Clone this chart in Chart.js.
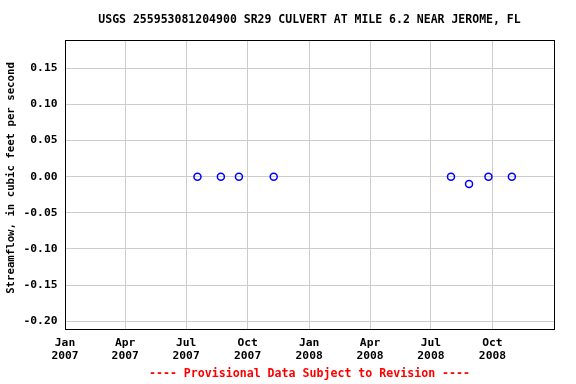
<!DOCTYPE html>
<html>
<head>
<meta charset="utf-8">
<script src="https://cdn.jsdelivr.net/npm/chart.js@4"></script>
<style>
html,body{margin:0;padding:0;background:#fff;}
#wrap{width:576px;height:384px;}
</style>
</head>
<body>
<div id="wrap"><canvas id="c" width="576" height="384"></canvas></div>
<script>
const titleText = "USGS 255953081204900 SR29 CULVERT AT MILE 6.2 NEAR JEROME, FL";
const footerText = "---- Provisional Data Subject to Revision ----";
const yAxisTitle = "  Streamflow, in cubic feet per second";
const sampleDates = ["2007-07-18","2007-08-22","2007-09-18","2007-11-09","2008-07-31","2008-08-27","2008-09-25","2008-10-30"];
const sampleValues = [0.00, 0.00, 0.00, 0.00, 0.00, -0.01, 0.00, 0.00];
const tickMonths = ["2007-01-01","2007-04-01","2007-07-01","2007-10-01","2008-01-01","2008-04-01","2008-07-01","2008-10-01"];
const tickLabels = [["Jan","2007"],["Apr","2007"],["Jul","2007"],["Oct","2007"],["Jan","2008"],["Apr","2008"],["Jul","2008"],["Oct","2008"]];
const yTicks = [0.15,0.10,0.05,0.00,-0.05,-0.10,-0.15,-0.20];

const toMs = s => Date.parse(s + "T00:00:00Z");
const tickMs = tickMonths.map(toMs);
const FONT = "'DejaVu Sans Mono', monospace";

const borderPlugin = {
  id: 'plotBorder',
  afterLayout(chart) {
    const a = chart.chartArea;
    chart.boxes.forEach(b => {
      if (b && b.options && typeof b.options.text === 'string' && (b.options.text === titleText || b.options.text === footerText)) {
        b.left = a.left; b.right = a.right; b.width = a.right - a.left;
      }
    });
  },
  afterDraw(chart) {
    const {ctx, chartArea: a} = chart;
    ctx.save();
    ctx.strokeStyle = '#000';
    ctx.lineWidth = 1;
    ctx.strokeRect(Math.round(a.left) + 0.5, Math.round(a.top) + 0.5, Math.round(a.right - a.left), Math.round(a.bottom - a.top));
    ctx.restore();
  }
};

new Chart(document.getElementById('c'), {
  type: 'scatter',
  data: {
    datasets: [{
      data: sampleDates.map((d, i) => ({x: toMs(d), y: sampleValues[i]})),
      borderColor: '#0000ff',
      backgroundColor: 'rgba(255,255,255,0)',
      pointRadius: 3.5,
      pointBorderWidth: 1.5,
      pointHoverRadius: 3.5
    }]
  },
  plugins: [borderPlugin],
  options: {
    responsive: false,
    animation: false,
    devicePixelRatio: 1,
    layout: {padding: {left: 0, right: 22, top: 0, bottom: 0}},
    plugins: {
      legend: {display: false},
      tooltip: {enabled: false},
      title: {
        display: true,
        text: titleText,
        color: '#000',
        font: {family: FONT, size: 11.5, weight: 'bold', lineHeight: 1.2},
        padding: {top: 13.1, bottom: 13.1}
      },
      subtitle: {
        display: true,
        position: 'bottom',
        text: footerText,
        color: '#ff0000',
        font: {family: FONT, size: 11.6, weight: 'bold', lineHeight: 1.2},
        padding: {top: 4, bottom: 2.8}
      }
    },
    scales: {
      x: {
        type: 'linear',
        min: toMs("2007-01-01"),
        max: toMs("2009-01-01"),
        afterBuildTicks(scale) { scale.ticks = tickMs.map(v => ({value: v})); },
        afterFit(scale) { scale.height = 34.4; },
        ticks: {
          autoSkip: false,
          maxRotation: 0,
          padding: 7.2,
          color: '#000',
          font: {family: FONT, size: 11.3, weight: 'bold', lineHeight: 1.15},
          callback(v) { const i = tickMs.indexOf(v); return i >= 0 ? tickLabels[i] : ''; }
        },
        grid: {color: '#cccccc', drawTicks: false, lineWidth: 1},
        border: {display: false}
      },
      y: {
        min: -0.2105,
        max: 0.189,
        afterBuildTicks(scale) { scale.ticks = yTicks.map(v => ({value: v})); },
        afterFit(scale) { scale.width = 65; },
        ticks: {
          padding: 7.5,
          color: '#000',
          font: {family: FONT, size: 11.3, weight: 'bold'},
          callback(v) { return v.toFixed(2); }
        },
        grid: {color: '#cccccc', drawTicks: false, lineWidth: 1},
        border: {display: false},
        title: {
          display: true,
          text: yAxisTitle,
          color: '#000',
          font: {family: FONT, size: 10.7, weight: 'bold', lineHeight: 1.2},
          padding: {top: 4.4, bottom: 0}
        }
      }
    }
  }
});
</script>
</body>
</html>
